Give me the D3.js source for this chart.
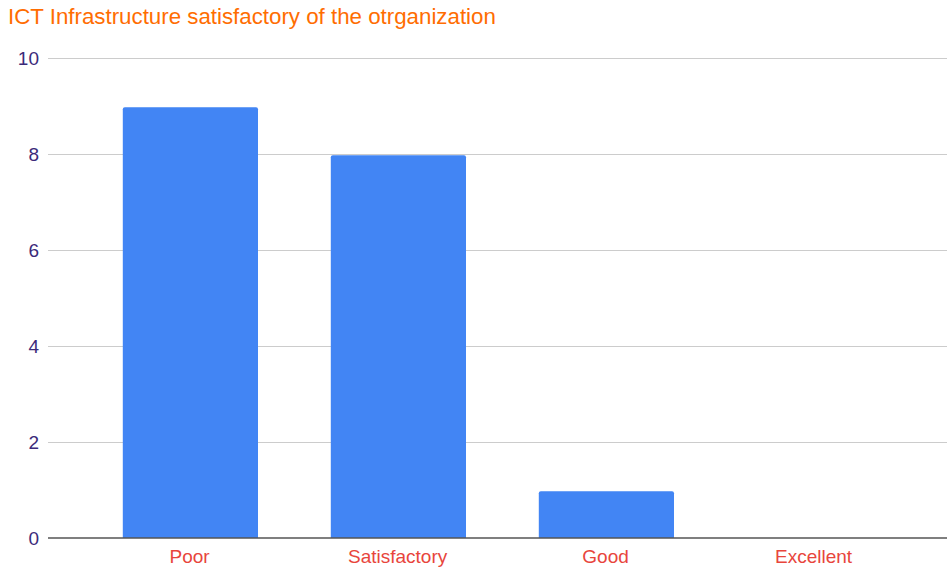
<!DOCTYPE html>
<html><head><meta charset="utf-8">
<script src="https://cdn.jsdelivr.net/npm/d3@7"></script>
<style>body{margin:0;background:#fff}svg{display:block;font-family:"Liberation Sans",Arial,sans-serif}</style>
</head><body><svg id="c" width="947" height="571"></svg>
<script>
const categories = ["Poor","Satisfactory","Good","Excellent"];
const values = [9, 8, 1, 0];
const yTicks = [0,2,4,6,8,10];
const title = "ICT Infrastructure satisfactory of the otrganization";

const svg = d3.select("#c");
const x = d3.scaleBand().domain(categories).range([86.4,918.4]).paddingInner(0.35).paddingOuter(0.175);
const y = d3.scaleLinear().domain([0,10]).range([538,58]);

svg.append("text").attr("x",8).attr("y",24).attr("font-size",22.3).attr("fill","#ff6d01").text(title);

const grid = svg.append("g");
grid.selectAll("line").data(yTicks.filter(d=>d>0)).join("line")
  .attr("x1",48).attr("x2",947).attr("y1",d=>y(d)+0.5).attr("y2",d=>y(d)+0.5)
  .attr("stroke","#cccccc").attr("stroke-width",1);
svg.append("g").selectAll("text").data(yTicks).join("text")
  .attr("x",39).attr("y",d=>y(d)+6.5).attr("text-anchor","end").attr("font-size",19).attr("fill","#3c2a7a").text(d=>d);

const r = 2;
svg.append("g").selectAll("path").data(categories.map((c,i)=>({c,v:values[i]})).filter(d=>d.v>0)).join("path")
  .attr("fill","#4285f4")
  .attr("d",d=>{const x0=x(d.c),x1=x0+x.bandwidth(),yt=y(d.v)+1.2,yb=y(0);
    return `M${x0},${yb}V${yt+r}Q${x0},${yt} ${x0+r},${yt}H${x1-r}Q${x1},${yt} ${x1},${yt+r}V${yb}Z`;});

svg.append("line").attr("x1",48).attr("x2",947).attr("y1",y(0)).attr("y2",y(0)).attr("stroke","#555").attr("stroke-width",1.5);

svg.append("g").selectAll("text").data(categories).join("text")
  .attr("x",d=>x(d)+x.bandwidth()/2-0.8).attr("y",563).attr("text-anchor","middle").attr("font-size",19).attr("fill","#e8453c").text(d=>d);
</script></body></html>
